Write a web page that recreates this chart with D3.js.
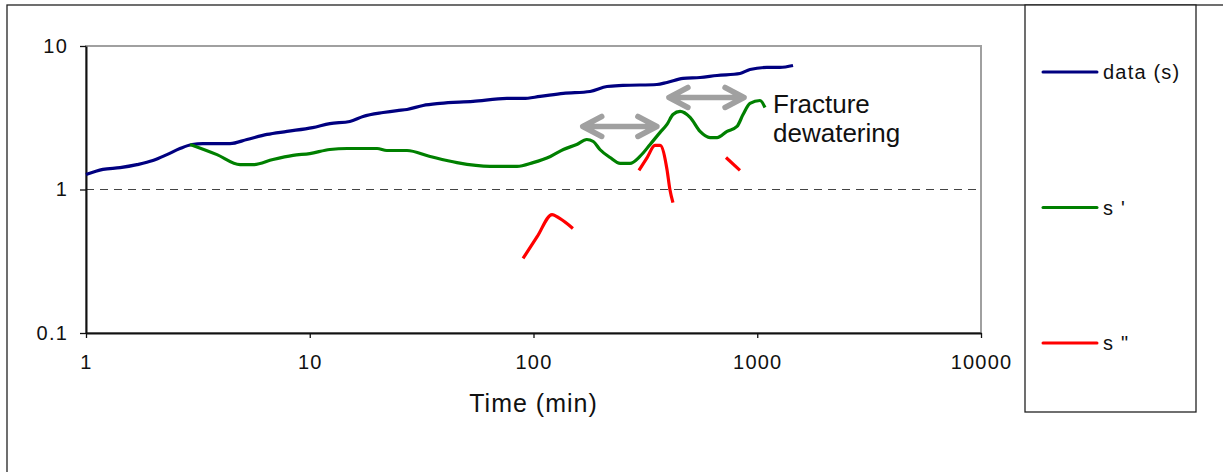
<!DOCTYPE html>
<html>
<head>
<meta charset="utf-8">
<script src="https://cdn.jsdelivr.net/npm/d3@7"></script>
<style>
  body { margin: 0; background: #fff; }
  svg { display: block; font-family: "Liberation Sans", Arial, sans-serif; }
</style>
</head>
<body>
<div id="vis"></div>
<script>
// drawdown data (time in min, drawdown s) and its derivatives
const dataTime = [1, 1.19, 1.42, 1.69, 1.99, 2.30, 2.63, 2.98, 3.33, 4.40, 5.24, 6.44, 7.91, 10.3, 12.3, 15.1, 17.3, 21.3, 24.6, 27.2, 32.1, 38.2, 53.7, 76.1, 89.8, 107, 136, 179, 213, 251, 356, 395, 466, 555, 661, 837, 928, 1106, 1264, 1445]
const dataS = [1.27, 1.38, 1.42, 1.49, 1.59, 1.75, 1.93, 2.06, 2.09, 2.09, 2.23, 2.42, 2.54, 2.70, 2.88, 2.98, 3.23, 3.44, 3.55, 3.61, 3.85, 3.98, 4.11, 4.31, 4.31, 4.45, 4.67, 4.82, 5.22, 5.31, 5.39, 5.57, 5.94, 6.03, 6.23, 6.43, 6.86, 7.09, 7.09, 7.31]

const d1Time = [2.92, 3.85, 4.88, 5.58, 6.85, 8.42, 10.0, 12.3, 14.7, 20.0, 22.1, 27.2, 34.5, 45.5, 63.9, 84.4, 99.5, 119, 136, 156, 173, 185, 198, 220, 244, 270, 299, 332, 368, 395, 420, 452, 501, 555, 615, 661, 733, 812, 864, 928, 1029, 1083]
const d1S = [2.06, 1.75, 1.49, 1.49, 1.62, 1.73, 1.78, 1.90, 1.93, 1.93, 1.87, 1.87, 1.70, 1.54, 1.45, 1.45, 1.54, 1.70, 1.90, 2.06, 2.23, 2.16, 1.90, 1.67, 1.52, 1.52, 1.70, 2.06, 2.50, 2.84, 3.33, 3.50, 3.18, 2.54, 2.30, 2.30, 2.54, 2.75, 3.33, 3.98, 4.17, 3.73]

// s'' comes in three separate pieces
const d2Segments = [
  { time: [89.8, 104, 121, 131, 150], s: [0.331, 0.471, 0.669, 0.628, 0.535] },
  { time: [296, 322, 349, 368, 395, 407, 420], s: [1.36, 1.67, 2.03, 2.03, 1.38, 1.0, 0.81] },
  { time: [725, 837], s: [1.67, 1.36] }
]

const xTicks = [1, 10, 100, 1000, 10000]
const yTicks = [0.1, 1, 10]
const seriesNames = ['data (s)', "s '", 's "']
const seriesColors = ['#000080', '#008000', '#ff0000']

// double arrows marking the dewatering steps
const arrows = [
  { from: 166, to: 356, s: 2.75 },
  { from: 403, to: 873, s: 4.38 }
]
const noteLines = ['Fracture', 'dewatering']
const noteAt = { time: 1176, s: 3.39 }

const W = 1223, H = 472
const plot = { left: 86, right: 981, top: 46, bottom: 333 }

const svg = d3.select('#vis').append('svg')
  .attr('width', W)
  .attr('height', H)

// outer chart frame (runs off the page to the right and bottom)
svg.append('rect')
  .attr('x', 7).attr('y', 5)
  .attr('width', 1400).attr('height', 600)
  .attr('fill', 'none')
  .attr('stroke', '#222')
  .attr('stroke-width', 1.3)

const x = d3.scaleLog().domain([1, 10000]).range([plot.left, plot.right])
const y = d3.scaleLog().domain([0.1, 10]).range([plot.bottom, plot.top])

// plot area border, grey on top and right
svg.append('rect')
  .attr('x', plot.left).attr('y', plot.top)
  .attr('width', plot.right - plot.left)
  .attr('height', plot.bottom - plot.top)
  .attr('fill', 'none')
  .attr('stroke', '#a0a0a0')
  .attr('stroke-width', 2)

// dashed line at s = 1
svg.append('line')
  .attr('x1', plot.left).attr('x2', plot.right)
  .attr('y1', y(1)).attr('y2', y(1))
  .attr('stroke', '#444')
  .attr('stroke-width', 1)
  .attr('stroke-dasharray', '8,6')

svg.append('g')
  .attr('transform', `translate(0,${plot.bottom})`)
  .call(d3.axisBottom(x).tickValues(xTicks).tickFormat(d3.format('')).tickSize(5).tickSizeOuter(0).tickPadding(17))
svg.append('g')
  .attr('transform', `translate(${plot.left},0)`)
  .call(d3.axisLeft(y).tickValues(yTicks).tickFormat(d3.format('')).tickSize(6).tickSizeOuter(0).tickPadding(12))

svg.selectAll('.domain').attr('stroke', '#111').attr('stroke-width', 2)
svg.selectAll('.tick line').attr('stroke', '#111').attr('stroke-width', 1.3)
svg.selectAll('.tick text')
  .attr('font-family', '"Liberation Sans", Arial, sans-serif')
  .attr('font-size', '20px')
  .attr('letter-spacing', '1.2px')
  .attr('fill', '#111')

svg.append('text')
  .attr('x', (plot.left + plot.right) / 2)
  .attr('y', 412)
  .attr('text-anchor', 'middle')
  .attr('font-size', '25px')
  .attr('letter-spacing', '1px')
  .attr('fill', '#111')
  .text('Time (min)')

// arrows
const arrowG = svg.append('g')
  .attr('stroke', '#a0a0a0')
  .attr('stroke-width', 5.5)
  .attr('stroke-linecap', 'round')
  .attr('stroke-linejoin', 'round')
  .attr('fill', 'none')

arrows.forEach(a => {
  const x0 = x(a.from), x1 = x(a.to), yy = y(a.s)
  arrowG.append('path')
    .attr('d', `M${x0},${yy}L${x1},${yy}` +
      `M${x0 + 19},${yy - 10}L${x0},${yy}L${x0 + 19},${yy + 10}` +
      `M${x1 - 19},${yy - 10}L${x1},${yy}L${x1 - 19},${yy + 10}`)
})

const line = d3.line()
  .x(d => x(d[0]))
  .y(d => y(d[1]))
  .curve(d3.curveMonotoneX)

svg.append('path')
  .datum(dataTime.map((t, i) => [t, dataS[i]]))
  .attr('d', line)
  .attr('fill', 'none')
  .attr('stroke', seriesColors[0])
  .attr('stroke-width', 3.2)

svg.append('path')
  .datum(d1Time.map((t, i) => [t, d1S[i]]))
  .attr('d', line)
  .attr('fill', 'none')
  .attr('stroke', seriesColors[1])
  .attr('stroke-width', 3.2)

svg.selectAll('.d2')
  .data(d2Segments)
  .enter()
  .append('path')
  .attr('class', 'd2')
  .attr('d', seg => line(seg.time.map((t, i) => [t, seg.s[i]])))
  .attr('fill', 'none')
  .attr('stroke', seriesColors[2])
  .attr('stroke-width', 3.2)

// annotation text
const note = svg.append('text')
  .attr('x', x(noteAt.time))
  .attr('y', y(noteAt.s))
  .attr('font-size', '26px')
  .attr('fill', '#111')
noteLines.forEach((t, i) => {
  note.append('tspan')
    .attr('x', x(noteAt.time))
    .attr('dy', i == 0 ? 0 : 29)
    .text(t)
})

// legend box
svg.append('rect')
  .attr('x', 1025).attr('y', 5)
  .attr('width', 171).attr('height', 407)
  .attr('fill', '#fff')
  .attr('stroke', '#222')
  .attr('stroke-width', 1.3)

const legend = svg.selectAll('.legendItem')
  .data(seriesNames)
  .enter()
  .append('g')
  .attr('class', 'legendItem')
  .attr('transform', (d, i) => `translate(1043,${72 + i * 135.5})`)

legend.append('line')
  .attr('x1', 0).attr('x2', 54)
  .attr('stroke', (d, i) => seriesColors[i])
  .attr('stroke-width', 3)
  .attr('stroke-linecap', 'round')

legend.append('text')
  .attr('x', 60)
  .attr('dy', '0.35em')
  .attr('font-size', '20px')
  .attr('letter-spacing', '1.2px')
  .attr('fill', '#111')
  .attr('xml:space', 'preserve')
  .text(d => d)
</script>
</body>
</html>
